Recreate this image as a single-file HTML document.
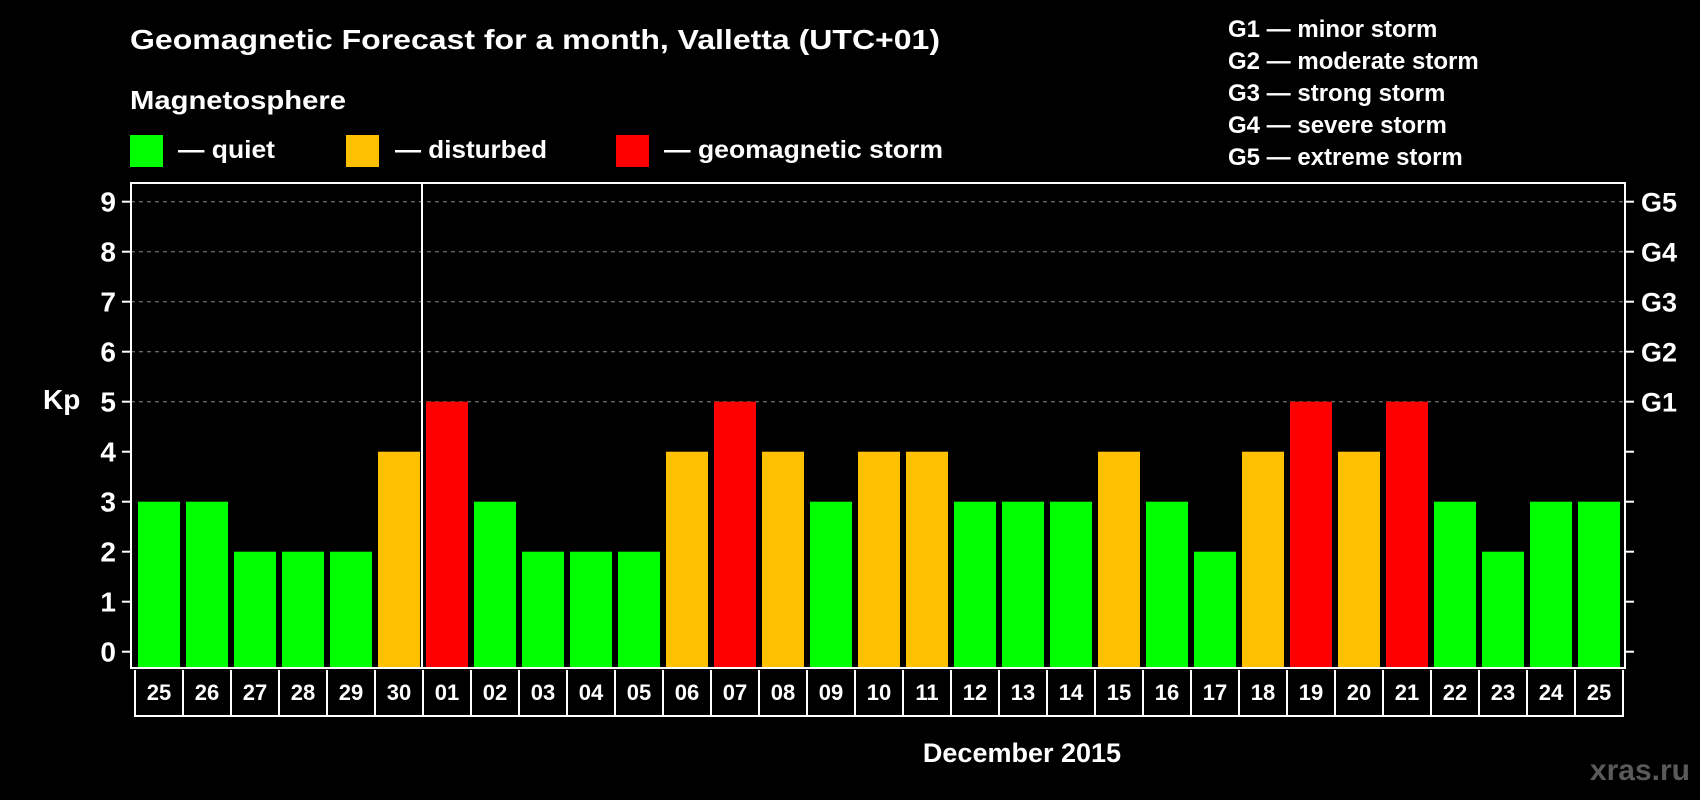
<!DOCTYPE html>
<html><head><meta charset="utf-8"><style>
html,body{margin:0;padding:0;background:#000;}
svg{display:block;font-family:"Liberation Sans",sans-serif;font-weight:bold;}
</style></head><body>
<svg id="chart" width="1700" height="800" viewBox="0 0 1700 800">
<rect x="0" y="0" width="1700" height="800" fill="#000"/>
<text x="130" y="49" fill="#fff" font-size="28" textLength="810" lengthAdjust="spacingAndGlyphs">Geomagnetic Forecast for a month, Valletta (UTC+01)</text>
<text x="130" y="109" fill="#fff" font-size="26" textLength="216" lengthAdjust="spacingAndGlyphs">Magnetosphere</text>
<g>
<rect x="130" y="135" width="33" height="32" fill="#00ff00"/>
<text x="178" y="158" fill="#fff" font-size="25" textLength="97" lengthAdjust="spacingAndGlyphs">— quiet</text>
<rect x="346" y="135" width="33" height="32" fill="#ffc000"/>
<text x="395" y="158" fill="#fff" font-size="25" textLength="152" lengthAdjust="spacingAndGlyphs">— disturbed</text>
<rect x="616" y="135" width="33" height="32" fill="#ff0000"/>
<text x="664" y="158" fill="#fff" font-size="25" textLength="279" lengthAdjust="spacingAndGlyphs">— geomagnetic storm</text>
</g>
<g font-size="24" fill="#fff">
<text x="1228" y="37">G1 — minor storm</text>
<text x="1228" y="69">G2 — moderate storm</text>
<text x="1228" y="101">G3 — strong storm</text>
<text x="1228" y="133">G4 — severe storm</text>
<text x="1228" y="165">G5 — extreme storm</text>
</g>
<text x="43" y="409" fill="#fff" font-size="28">Kp</text>
<text x="1022" y="762" fill="#fff" font-size="27" text-anchor="middle">December 2015</text>
<text x="1690" y="780" fill="#5a5a5a" font-size="30" text-anchor="end">xras.ru</text>
<g id="plot"></g>
</svg>
<script>
const days = ["25","26","27","28","29","30","01","02","03","04","05","06","07","08","09","10","11","12","13","14","15","16","17","18","19","20","21","22","23","24","25"];
const kpValues = [3,3,2,2,2,4,5,3,2,2,2,4,5,4,3,4,4,3,3,3,4,3,2,4,5,4,5,3,2,3,3];
const yTicks = [0,1,2,3,4,5,6,7,8,9];
const gLabels = ["G1","G2","G3","G4","G5"];
const gLevels = [5,6,7,8,9];

const NS = "http://www.w3.org/2000/svg";
const plotG = document.getElementById("plot");
const plotLeft = 131, plotRight = 1625, plotTop = 183, plotBottom = 668;
const slot0 = 135, slotW = 48;
const yScale = v => 651.7 - v * 50;
const xScale = i => slot0 + i * slotW;
function mk(tag, attrs) {
  const e = document.createElementNS(NS, tag);
  for (const k in attrs) e.setAttribute(k, attrs[k]);
  plotG.appendChild(e);
  return e;
}
gLevels.forEach(v => {
  const l = mk("line", {x1:plotLeft, x2:plotRight, y1:yScale(v), y2:yScale(v), stroke:"#888", "stroke-width":1, "stroke-dasharray":"4,4"});
  
  
});
kpValues.forEach((v, i) => {
  const color = v >= 5 ? "#ff0000" : (v >= 4 ? "#ffc000" : "#00ff00");
  const r = mk("rect", {x:xScale(i)+3, y:yScale(v), width:42, height:plotBottom - yScale(v), fill:color});
  
  
});
const fr = mk("rect", {x:plotLeft, y:plotTop, width:plotRight-plotLeft, height:plotBottom-plotTop, fill:"none", stroke:"#fff", "stroke-width":2});


const sepIdx = days.indexOf("01");
const sep = mk("line", {x1:xScale(sepIdx)-1, x2:xScale(sepIdx)-1, y1:plotTop, y2:plotBottom, stroke:"#fff", "stroke-width":2});


yTicks.forEach(v => {
  const t = mk("line", {x1:122, x2:plotLeft, y1:yScale(v), y2:yScale(v), stroke:"#fff", "stroke-width":2});
  
  
  const t2 = mk("line", {x1:plotRight, x2:1634, y1:yScale(v), y2:yScale(v), stroke:"#fff", "stroke-width":2});
  
  
  const tx = mk("text", {x:116, y:yScale(v)+10, fill:"#fff", "font-size":28, "text-anchor":"end"});
  tx.textContent = v;
  
  
});
gLabels.forEach((g, i) => {
  const tx = mk("text", {x:1641, y:yScale(gLevels[i])+10, fill:"#fff", "font-size":27});
  tx.textContent = g;
  
  
});
const hb = mk("line", {x1:slot0, x2:xScale(days.length), y1:716, y2:716, stroke:"#fff", "stroke-width":2});


for (let i = 0; i <= days.length; i++) {
  const vl = mk("line", {x1:xScale(i), x2:xScale(i), y1:670, y2:717, stroke:"#fff", "stroke-width":2});
  
  
}
days.forEach((d, i) => {
  const tx = mk("text", {x:xScale(i)+24, y:700, fill:"#fff", "font-size":22, "text-anchor":"middle"});
  tx.textContent = d;
  
  
});
</script>
</body></html>
